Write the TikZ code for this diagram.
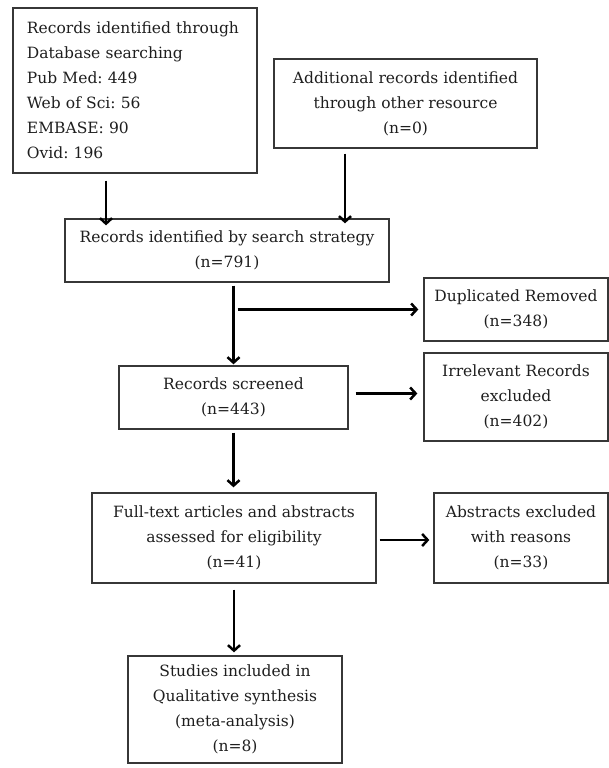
\documentclass[tikz,border=0pt]{standalone}
\usepackage{fontspec}
\setmainfont{DejaVu Serif}
\usepackage{tikz}
\usetikzlibrary{arrows.meta,positioning}
\definecolor{boxline}{RGB}{55,55,55}
\definecolor{boxtext}{RGB}{30,30,30}
\frenchspacing

\begin{document}
\begin{tikzpicture}[
  x=1pt, y=1pt,
  font=\fontsize{15.5}{25}\selectfont,
  box/.style={draw=boxline, line width=1.3pt, text=boxtext,
    align=center, inner sep=0pt},
  arr/.style={-{Straight Barb[length=5.5pt,width=12pt,line width=2.5pt]}, line width=2.4pt}
]
\useasboundingbox (0,0) rectangle (609,768);

\node[box, align=left, text width=216pt, inner xsep=14pt, minimum height=165pt] (db) at (135,677.5)
  {Records identified through\\Database searching\\Pub Med: 449\\Web of Sci: 56\\EMBASE: 90\\Ovid: 196};
\node[box, minimum width=263pt, minimum height=89pt] (other) at (405.5,664.5)
  {Additional records identified\\through other resource\\(n=0)};
\node[box, minimum width=324pt, minimum height=63pt] (search) at (227,517.5)
  {Records identified by search strategy\\(n=791)};
\node[box, minimum width=184pt, minimum height=63pt] (dup) at (516,458.5)
  {Duplicated Removed\\(n=348)};
\node[box, minimum width=229pt, minimum height=63pt] (screen) at (233.5,370.5)
  {Records screened\\(n=443)};
\node[box, minimum width=184pt, minimum height=88pt] (irrel) at (516,371)
  {Irrelevant Records\\excluded\\(n=402)};
\node[box, minimum width=284pt, minimum height=90pt] (full) at (234,230)
  {Full-text articles and abstracts\\assessed for eligibility\\(n=41)};
\node[box, minimum width=174pt, minimum height=90pt] (abstr) at (521,230)
  {Abstracts excluded\\with reasons\\(n=33)};
\node[box, minimum width=214pt, minimum height=107pt] (incl) at (235,58.5)
  {Studies included in\\Qualitative synthesis\\(meta-analysis)\\(n=8)};

\draw[arr] ([xshift=-29pt,yshift=-7pt]db.south) -- ([xshift=-29pt,yshift=-7pt]db.south |- search.north);
\draw[arr] ([xshift=-60.5pt,yshift=-5pt]other.south) -- ([xshift=-60.5pt,yshift=-5pt]other.south |- search.north);
\draw[arr] ([yshift=-3pt]screen.north |- search.south) -- ([yshift=1pt]screen.north);
\draw[arr] ([xshift=4pt]screen.north |- dup.west) -- ([xshift=-5pt]dup.west);
\draw[arr] ([xshift=7pt,yshift=4pt]screen.east) -- ([xshift=-6pt,yshift=4pt]screen.east -| irrel.west);
\draw[arr] ([yshift=-3pt]screen.south) -- ([yshift=5pt]screen.south |- full.north);
\draw[arr] ([xshift=3pt,yshift=-2pt]full.east) -- ([xshift=-4pt,yshift=-2pt]full.east -| abstr.west);
\draw[arr] ([yshift=-6pt]full.south) -- ([yshift=3pt]full.south |- incl.north);
\end{tikzpicture}
\end{document}
